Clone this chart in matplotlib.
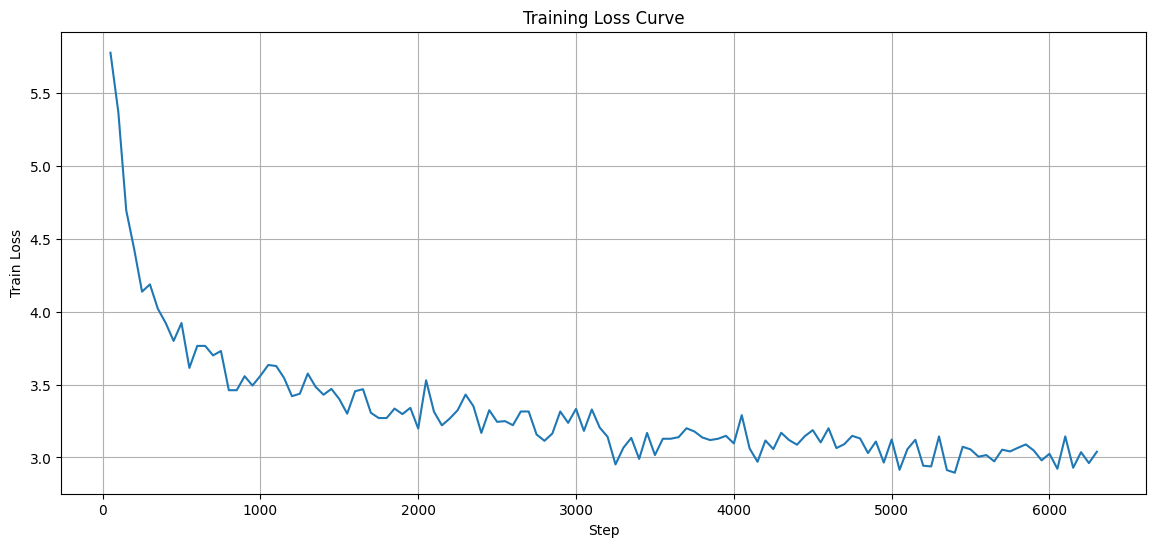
import numpy as np
import matplotlib
matplotlib.use("Agg")
import matplotlib.pyplot as plt

# Logged every 50 steps
steps = np.arange(50, 6301, 50)

train_loss = [
    5.776, 5.367, 4.694, 4.43, 4.137, 4.187, 4.02, 3.922, 3.799, 3.922,
    3.614, 3.765, 3.765, 3.70, 3.73, 3.461, 3.461, 3.557, 3.493, 3.56,
    3.634, 3.627, 3.545, 3.42, 3.437, 3.575, 3.484, 3.43, 3.47, 3.40,
    3.30, 3.454, 3.468, 3.306, 3.27, 3.27, 3.335, 3.297, 3.34, 3.198,
    3.529, 3.313, 3.22, 3.267, 3.324, 3.431, 3.351, 3.168, 3.324, 3.244,
    3.249, 3.221, 3.315, 3.315, 3.157, 3.114, 3.164, 3.315, 3.237, 3.333,
    3.182, 3.329, 3.205, 3.141, 2.952, 3.066, 3.134, 2.99, 3.168, 3.016,
    3.128, 3.128, 3.139, 3.20, 3.178, 3.137, 3.119, 3.128, 3.148, 3.096,
    3.29, 3.061, 2.97, 3.116, 3.057, 3.169, 3.119, 3.087, 3.146, 3.187,
    3.103, 3.20, 3.064, 3.091, 3.148, 3.13, 3.03, 3.109, 2.965, 3.123,
    2.915, 3.057, 3.121, 2.943, 2.938, 3.144, 2.913, 2.895, 3.073, 3.055,
    3.005, 3.016, 2.973, 3.053, 3.041, 3.066, 3.089, 3.048, 2.98, 3.025,
    2.922, 3.144, 2.929, 3.036, 2.961, 3.039,
]

plt.figure(figsize=(14, 6))
plt.plot(steps, train_loss)
plt.xlabel('Step')
plt.ylabel('Train Loss')
plt.title('Training Loss Curve')
plt.grid(True)
plt.savefig('out.png', bbox_inches='tight')
